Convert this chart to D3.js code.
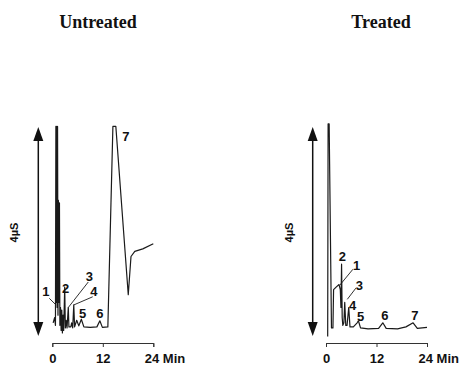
<!DOCTYPE html>
<html>
<head>
<meta charset="utf-8">
<script src="https://cdn.jsdelivr.net/npm/d3@7"></script>
<style>
  html, body { margin: 0; padding: 0; background: #fff; }
</style>
</head>
<body>
<main></main>
<script>
// chromatogram traces: [time (min), conductivity (µS)]
const untreatedTrace = [
  [0.2, 0.2], [0.55, 0.3], [0.75, 0.15], [0.85, 4.05], [0.95, 0.6], [1.05, 4.05], [1.15, 0.5],
  [1.25, 4.05], [1.35, 0.35], [1.45, 2.6], [1.55, 0.6], [1.7, 2.55], [1.8, 0.15], [1.95, 0.5],
  [2.1, 0.05], [2.25, 0.45], [2.4, 0.0], [2.55, 0.35], [2.7, 0.05], [2.95, 0.9], [3.1, 0.1],
  [3.3, 0.25], [3.5, 0.1], [3.8, 0.5], [3.95, 0.12], [4.4, 0.12], [4.6, 0.2], [4.85, 0.1],
  [5.1, 0.55], [5.3, 0.12], [5.8, 0.25], [6.3, 0.14], [6.9, 0.27], [7.5, 0.12], [9, 0.11],
  [10.6, 0.12], [11.3, 0.24], [11.9, 0.11], [13.2, 0.12], [14.4, 4.05], [15.1, 4.05],
  [18.05, 0.75], [18.7, 1.5], [19.6, 1.6], [21.5, 1.65], [24, 1.75]
];
const treatedTrace = [
  [0.4, -0.07], [0.5, 4.1], [0.75, 4.1], [1.3, 0.1], [1.65, 0.1], [1.8, 0.85], [2.4, 0.9],
  [3.1, 0.95], [3.4, 0.85], [3.55, 0.5], [3.7, 1.35], [3.85, 0.3], [4.0, 0.15], [4.25, 0.2],
  [4.45, 0.6], [4.7, 0.15], [5.0, 0.15], [5.4, 0.5], [5.7, 0.12], [6.5, 0.12], [7.4, 0.2],
  [7.7, 0.24], [8.2, 0.1], [10, 0.08], [12.5, 0.09], [13.5, 0.2], [14.3, 0.09], [17, 0.08],
  [19, 0.12], [20.7, 0.2], [21.7, 0.09], [24, 0.11]
];

// peak labels: [label, time, µS]
const untreatedPeaks = [
  ["1", -1.5, 0.81], ["2", 3.18, 0.88], ["3", 8.8, 1.1], ["4", 9.9, 0.81],
  ["5", 7.2, 0.39], ["6", 11.3, 0.39], ["7", 17.5, 3.85]
];
const treatedPeaks = [
  ["2", 3.87, 1.5], ["1", 7.3, 1.33], ["3", 7.9, 0.94], ["4", 6.35, 0.55],
  ["5", 8.25, 0.32], ["6", 14.0, 0.35], ["7", 21.1, 0.35]
];

// leader lines: [[t1, v1], [t2, v2]]
const untreatedLeaders = [
  [[-0.71, 0.68], [0.88, 0.55]],
  [[8.55, 1.0], [3.8, 0.5]],
  [[9.6, 0.71], [5.1, 0.55]]
];
const treatedLeaders = [
  [[6.4, 1.25], [3.3, 0.94]],
  [[7.1, 0.88], [5.06, 0.66]]
];

const timeTicks = [0, 12, 24];
const tickLabels = ["0", "12", "24 Min"];
const titles = ["Untreated", "Treated"];
const scaleLabel = "4µS";

const W = 461, H = 370;
const svg = d3.select("main").append("svg")
  .attr("width", W).attr("height", H).attr("viewBox", `0 0 ${W} ${H}`);

const y = d3.scaleLinear().domain([0, 4]).range([333, 129]);

const panels = [
  { title: titles[0], trace: untreatedTrace, peaks: untreatedPeaks, leaders: untreatedLeaders,
    x: d3.scaleLinear().domain([0, 24]).range([52.3, 153.3]), arrowX: 38.3, labelX: 14, titleX: 98 },
  { title: titles[1], trace: treatedTrace, peaks: treatedPeaks, leaders: treatedLeaders,
    x: d3.scaleLinear().domain([0, 24]).range([326, 427]), arrowX: 312.7, labelX: 289, titleX: 381 }
];

const labelFont = "'Liberation Sans Narrow', 'Arial Narrow', 'Liberation Sans', sans-serif";

panels.forEach(p => {
  const g = svg.append("g");

  g.append("text")
    .attr("x", p.titleX).attr("y", 28)
    .attr("text-anchor", "middle")
    .style("font", "bold 18px 'Liberation Serif', 'DejaVu Serif', serif")
    .attr("fill", "#111")
    .text(p.title);

  // 4µS double arrow
  const top = y(4) - 2, bot = y(0) + 3;
  g.append("line")
    .attr("x1", p.arrowX).attr("x2", p.arrowX)
    .attr("y1", top + 8).attr("y2", bot - 8)
    .attr("stroke", "#111").attr("stroke-width", 1.5);
  g.append("path")
    .attr("d", `M${p.arrowX},${top}L${p.arrowX + 5},${top + 14}L${p.arrowX - 5},${top + 14}Z`)
    .attr("fill", "#111");
  g.append("path")
    .attr("d", `M${p.arrowX},${bot}L${p.arrowX + 5},${bot - 14}L${p.arrowX - 5},${bot - 14}Z`)
    .attr("fill", "#111");

  g.append("text")
    .attr("transform", `translate(${p.labelX},${(top + bot) / 2 + 1}) rotate(-90)`)
    .attr("text-anchor", "middle").attr("dy", "0.35em")
    .style("font", `bold 11px ${labelFont}`)
    .attr("fill", "#111")
    .text(scaleLabel);

  // trace
  const line = d3.line().x(d => p.x(d[0])).y(d => y(d[1]));
  g.append("path")
    .datum(p.trace)
    .attr("fill", "none")
    .attr("stroke", "#1a1a1a")
    .attr("stroke-width", 1.2)
    .attr("stroke-linejoin", "round")
    .attr("d", line);

  // leader lines
  g.selectAll(".leader")
    .data(p.leaders)
    .join("path")
    .attr("fill", "none").attr("stroke", "#1a1a1a").attr("stroke-width", 0.9)
    .attr("d", line);

  // peak numbers
  g.selectAll(".peak")
    .data(p.peaks)
    .join("text")
    .attr("x", d => p.x(d[1])).attr("y", d => y(d[2]))
    .attr("text-anchor", "middle").attr("dy", "0.35em")
    .style("font", `bold 13px ${labelFont}`)
    .attr("fill", "#111")
    .text(d => d[0]);

  // time axis (bracket)
  const axis = g.append("g")
    .attr("transform", "translate(0,343)")
    .call(d3.axisBottom(p.x).tickValues(timeTicks).tickSize(4).tickSizeOuter(4)
      .tickFormat((d, i) => tickLabels[i]));
  axis.select(".domain").attr("stroke", "#333").attr("stroke-width", 1);
  axis.selectAll(".tick line").attr("stroke", "#333");
  axis.selectAll(".tick text")
    .attr("y", 11).attr("dy", "0.71em")
    .attr("fill", "#111")
    .style("font", "bold 13px 'Liberation Sans', Arial, sans-serif")
    .filter((d, i) => i === 2)
    .attr("text-anchor", "start")
    .attr("x", -9);
});
</script>
</body>
</html>
